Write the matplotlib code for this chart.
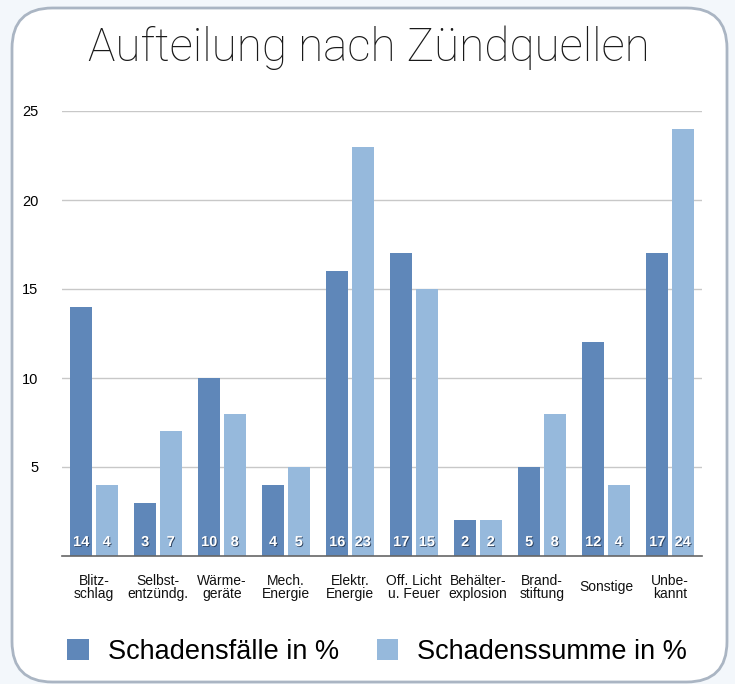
import matplotlib
matplotlib.use("Agg")
import matplotlib.pyplot as plt
import matplotlib.patheffects as pe
from matplotlib.patches import FancyBboxPatch, Patch
import numpy as np

categories = ["Blitz-\nschlag", "Selbst-\nentzündg.", "Wärme-\ngeräte", "Mech.\nEnergie",
              "Elektr.\nEnergie", "Off. Licht\nu. Feuer", "Behälter-\nexplosion",
              "Brand-\nstiftung", "Sonstige", "Unbe-\nkannt"]
faelle = [14, 3, 10, 4, 16, 17, 2, 5, 12, 17]
summe = [4, 7, 8, 5, 23, 15, 2, 8, 4, 24]
yticks = [5, 10, 15, 20, 25]

dark = "#5f87b9"
light = "#96b9dc"

plt.rcParams['font.family'] = ['Liberation Sans', 'DejaVu Sans']

W, H = 735, 684
fig = plt.figure(figsize=(W / 100, H / 100), dpi=100)
fig.patch.set_facecolor("#f3f7fb")

# rounded white panel
panel = FancyBboxPatch((12 / W, 2 / H), 715 / W, 674 / H,
                       boxstyle="round,pad=0,rounding_size=0.055",
                       transform=fig.transFigure, facecolor="white",
                       edgecolor="#aab5c3", linewidth=2, mutation_aspect=W / H,
                       zorder=-10)
fig.patches.append(panel)

ax = fig.add_axes([62 / W, (H - 556) / H, 640 / W, (556 - 111) / H])
ax.set_facecolor("none")
ax.set_zorder(2)

x = np.arange(len(categories))
bw = 0.34
ax.bar(x - 0.2, faelle, bw, color=dark, zorder=3)
ax.bar(x + 0.2, summe, bw, color=light, zorder=3)

shadow = [pe.withSimplePatchShadow(offset=(0.6, -0.6), shadow_rgbFace="#1f3350", alpha=0.9)]
for i in range(len(categories)):
    for xx, v in ((x[i] - 0.2, faelle[i]), (x[i] + 0.2, summe[i])):
        ax.annotate(str(v), (xx, 0), xytext=(0, 10), textcoords="offset points",
                    ha="center", va="center", color="white", fontsize=10.5,
                    fontweight="bold", zorder=5, path_effects=shadow)
    ax.text(x[i], -0.07, categories[i], transform=ax.get_xaxis_transform(),
            ha="center", va="center", fontsize=10, linespacing=0.9, color="#111111")

ax.set_xlim(-0.5, len(categories) - 0.5)
ax.set_ylim(0, 25)
ax.set_yticks(yticks)
ax.set_yticklabels([str(t) for t in yticks], fontsize=10.5)
ax.tick_params(axis="y", length=0, pad=17)
ax.set_xticks([])
for t in yticks:
    ax.axhline(t, color="#c8c8c8", linewidth=1, zorder=1)
for s in ["top", "right", "left"]:
    ax.spines[s].set_visible(False)
ax.spines["bottom"].set_color("#666666")
ax.spines["bottom"].set_linewidth(1.2)
ax.spines["bottom"].set_zorder(4)

fig.text(369 / W, 1 - 48 / H, "Aufteilung nach Zündquellen", ha="center", va="center",
         fontsize=33, family=["Roboto", "DejaVu Sans"], fontweight="light", color="#1a1a1a")

handles = [Patch(facecolor=dark, label="Schadensfälle in %"),
           Patch(facecolor=light, label="Schadenssumme in %")]
fig.legend(handles=handles, loc="center", bbox_to_anchor=(377 / W, 1 - 652 / H),
           ncol=2, frameon=False, fontsize=19.5, handlelength=0.8, handleheight=0.8,
           handletextpad=0.7, columnspacing=1.4)

fig.savefig("out.png", dpi=100, facecolor=fig.get_facecolor())
